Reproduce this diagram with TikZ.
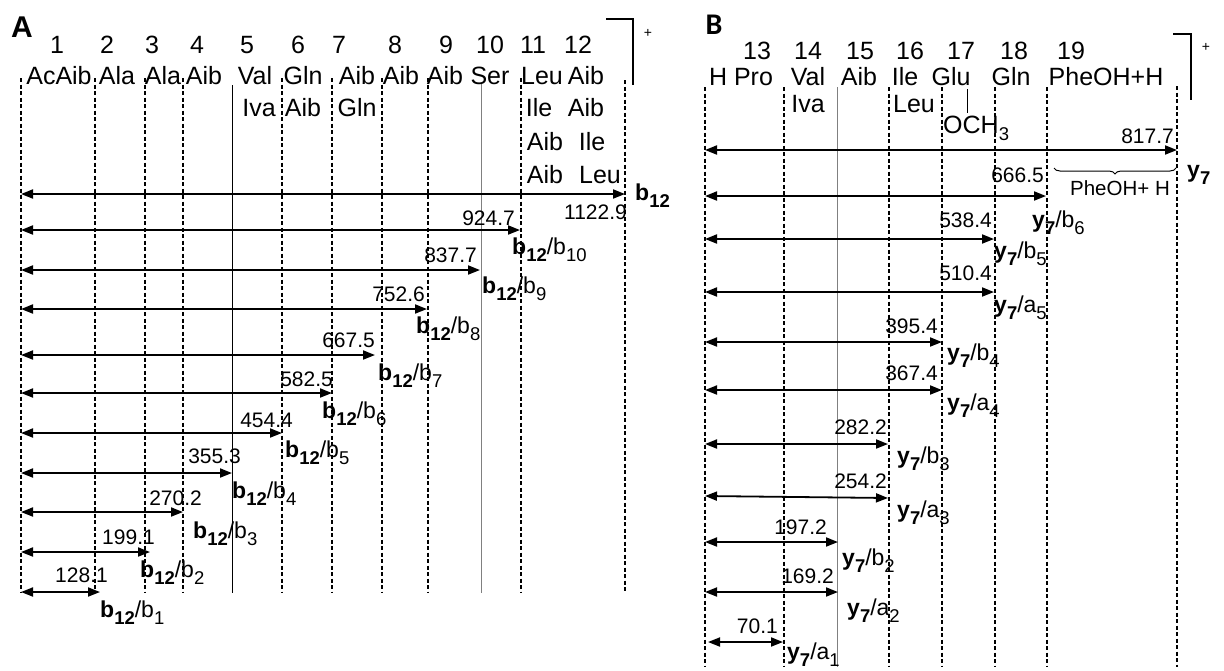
\documentclass[tikz,border=0pt]{standalone}
\usepackage{fontspec}
\setmainfont{Liberation Sans}
\newfontfamily\calib{Carlito}
\usetikzlibrary{positioning}
\usetikzlibrary{arrows.meta}
\usetikzlibrary{decorations.pathreplacing}
\newcommand{\sbs}[1]{\raisebox{-7pt}{\fontsize{18.5}{18.5}\selectfont #1}}
\newcommand{\bion}[1]{\textbf{b}\sbs{\bfseries 12}/b\sbs{#1}}
\newcommand{\yion}[2]{\textbf{y}\sbs{\bfseries 7}/#1\sbs{#2}}
\tikzset {
  % dotted guide lines between residues
  sep/.style={line width=1.4pt, dash pattern=on 4pt off 2.5pt},
  septhin/.style={line width=0.6pt},
  % fragment arrows and their labels
  frag/.style={line width=1.8pt, >={Triangle[length=12pt,width=9pt]}, <->},
  mass/.style={anchor=base east, inner sep=0pt, font=\fontsize{21}{21}\selectfont},
  ion/.style={anchor=base west, inner sep=0pt, font=\fontsize{23}{23}\selectfont},
  res/.style={anchor=base, inner sep=0pt, font=\fontsize{25}{25}\selectfont},
  plus/.style={inner sep=0pt, font=\fontsize{14}{14}\selectfont},
}

\begin{document}
\begin{tikzpicture}[x=1pt, y=-1pt]
      \useasboundingbox (0,0) rectangle (1224,670);

      % panel A
      \node[font=\fontsize{30}{30}\selectfont\bfseries] (pA) at (22,27) {A};
      \draw[sep] (21,78) -- (21,593) (95,78) -- (95,593) (145,78) -- (145,593)
        (183,78) -- (183,593) (282,78) -- (282,593) (332,78) -- (332,593)
        (382,78) -- (382,593) (428,78) -- (428,593) (521,78) -- (521,593)
        (625,80) -- (625,593);
      \draw[septhin] (232,85) -- (232,593);
      \draw[septhin, gray] (481,83) -- (481,593);

      \node[res] (n1) at (57,53) {1};
      \node[res] (n2) at (107,53) {2};
      \node[res] (n3) at (152,53) {3};
      \node[res] (n4) at (197,53) {4};
      \node[res] (n5) at (247,53) {5};
      \node[res] (n6) at (298,53) {6};
      \node[res] (n7) at (339,53) {7};
      \node[res] (n8) at (395,53) {8};
      \node[res] (n9) at (446,53) {9};
      \node[res] (n10) at (490,53) {10};
      \node[res] (n11) at (533,53) {11};
      \node[res] (n12) at (578,53) {12};

      \node[res] (r1) at (59,84) {AcAib};
      \node[res] (r2) at (117,84) {Ala};
      \node[res] (r3) at (163,84) {Ala};
      \node[res] (r4) at (204,84) {Aib};
      \node[res] (r5) at (255,84) {Val};
      \node[res] (r6) at (303,84) {Gln};
      \node[res] (r7) at (357,84) {Aib};
      \node[res] (r8) at (401,84) {Aib};
      \node[res] (r9) at (445,84) {Aib};
      \node[res] (r10) at (490,84) {Ser};
      \node[res] (r11) at (542,84) {Leu};
      \node[res] (r12) at (586,84) {Aib};
      \node[res] (r5b) at (259,116) {Iva};
      \node[res] (r6b) at (303,116) {Aib};
      \node[res] (r7b) at (357,116) {Gln};
      \node[res] (r11b) at (539,116) {Ile};
      \node[res] (r12b) at (586,116) {Aib};
      \node[res] (r11c) at (545,150) {Aib};
      \node[res] (r12c) at (592,150) {Ile};
      \node[res] (r11d) at (545,183) {Aib};
      \node[res] (r12d) at (600,183) {Leu};

      \coordinate (kA1) at (606,19);
      \coordinate (kA2) at (633,19);
      \coordinate (kA3) at (633,85);
      \draw[line width=1.4pt] (kA1) -- (kA2) -- (kA3);
      \node[plus] (cA) at (648,33) {+};

      \coordinate (a1l) at (21,194); \coordinate (a1r) at (625,194);
      \draw[frag] (a1l) -- (a1r);
      \node[mass] (m1) at (627,219) {1122.9};
      \node[ion] (f1) at (635,200) {\textbf{b}\sbs{\bfseries 12}};

      \coordinate (a2l) at (21,230); \coordinate (a2r) at (520,230);
      \draw[frag] (a2l) -- (a2r);
      \node[mass] (m2) at (515,225) {924.7};
      \node[ion] (f2) at (512,254) {\bion{10}};

      \coordinate (a3l) at (21,270); \coordinate (a3r) at (480,270);
      \draw[frag] (a3l) -- (a3r);
      \node[mass] (m3) at (477,262) {837.7};
      \node[ion] (f3) at (482,293) {\bion{9}};

      \coordinate (a4l) at (21,309); \coordinate (a4r) at (427,309);
      \draw[frag] (a4l) -- (a4r);
      \node[mass] (m4) at (425,301) {752.6};
      \node[ion] (f4) at (416,333) {\bion{8}};

      \coordinate (a5l) at (21,355); \coordinate (a5r) at (375,355);
      \draw[frag] (a5l) -- (a5r);
      \node[mass] (m5) at (375,347) {667.5};
      \node[ion] (f5) at (378,380) {\bion{7}};

      \coordinate (a6l) at (21,393); \coordinate (a6r) at (332,393);
      \draw[frag] (a6l) -- (a6r);
      \node[mass] (m6) at (333,386) {582.5};
      \node[ion] (f6) at (322,418) {\bion{6}};

      \coordinate (a7l) at (21,433); \coordinate (a7r) at (282,433);
      \draw[frag] (a7l) -- (a7r);
      \node[mass] (m7) at (293,427) {454.4};
      \node[ion] (f7) at (285,457) {\bion{5}};

      \coordinate (a8l) at (21,473); \coordinate (a8r) at (232,473);
      \draw[frag] (a8l) -- (a8r);
      \node[mass] (m8) at (241,463) {355.3};
      \node[ion] (f8) at (232,498) {\bion{4}};

      \coordinate (a9l) at (21,512); \coordinate (a9r) at (183,512);
      \draw[frag] (a9l) -- (a9r);
      \node[mass] (m9) at (202,505) {270.2};
      \node[ion] (f9) at (193,538) {\bion{3}};

      \coordinate (a10l) at (21,552); \coordinate (a10r) at (150,552);
      \draw[frag] (a10l) -- (a10r);
      \node[mass] (m10) at (155,544) {199.1};
      \node[ion] (f10) at (140,577) {\bion{2}};

      \coordinate (a11l) at (21,592); \coordinate (a11r) at (100,592);
      \draw[frag] (a11l) -- (a11r);
      \node[mass] (m11) at (108,582) {128.1};
      \node[ion] (f11) at (100,617) {\bion{1}};

      % panel B
      \node[font=\fontsize{30}{30}\selectfont\bfseries\calib] (pB) at (714,25) {B};
      \draw[sep] (705,87) -- (705,667) (784,87) -- (784,667) (889,87) -- (889,667)
        (942,87) -- (942,667) (995,87) -- (995,667) (1047,87) -- (1047,667)
        (1177,86) -- (1177,667);
      \draw[septhin, gray] (837,87) -- (837,667);

      \node[res] (n13) at (757,59) {13};
      \node[res] (n14) at (808,59) {14};
      \node[res] (n15) at (860,59) {15};
      \node[res] (n16) at (910,59) {16};
      \node[res] (n17) at (961,59) {17};
      \node[res] (n18) at (1014,59) {18};
      \node[res] (n19) at (1071,59) {19};

      \node[res] (r13) at (741,85) {H Pro};
      \node[res] (r14) at (808,85) {Val};
      \node[res] (r15) at (859,85) {Aib};
      \node[res] (r16) at (905,85) {Ile};
      \node[res] (r17) at (951,85) {Glu};
      \node[res] (r18) at (1011,85) {Gln};
      \node[res] (r19) at (1106,85) {PheOH+H};
      \node[res] (r14b) at (808,112) {Iva};
      \node[res] (r16b) at (914,112) {Leu};
      \node[res, anchor=base west] (och) at (943,133) {OCH\sbs{3}};
      \coordinate (g1) at (967,89);
      \coordinate (g2) at (967,113);
      \draw[line width=1pt] (g1) -- (g2);

      \coordinate (kB1) at (1173,34);
      \coordinate (kB2) at (1191,34);
      \coordinate (kB3) at (1191,100);
      \draw[line width=1.4pt] (kB1) -- (kB2) -- (kB3);
      \node[plus] (cB) at (1206,47) {+};

      \coordinate (b1l) at (705,150); \coordinate (b1r) at (1177,150);
      \draw[frag] (b1l) -- (b1r);
      \node[mass] (p1) at (1174,143) {817.7};
      \node[ion] (y1) at (1187,177) {\textbf{y}\sbs{\bfseries 7}};
      \coordinate (br1) at (1054,168); \coordinate (br2) at (1176,168);
      \draw[decorate, decoration={brace, mirror, amplitude=6pt}, line width=1pt] (br1) -- (br2);
      \node[anchor=base, inner sep=0pt, font=\fontsize{20.5}{20.5}\selectfont] (phe) at (1120,195) {PheOH+ H};

      \coordinate (b2l) at (705,196); \coordinate (b2r) at (1046,196);
      \draw[frag] (b2l) -- (b2r);
      \node[mass] (p2) at (1044,182) {666.5};
      \node[ion] (y2) at (1032,227) {\yion{b}{6}};

      \coordinate (b3l) at (705,239); \coordinate (b3r) at (994,239);
      \draw[frag] (b3l) -- (b3r);
      \node[mass] (p3) at (992,227) {538.4};
      \node[ion] (y3) at (994,258) {\yion{b}{5}};

      \coordinate (b4l) at (705,292); \coordinate (b4r) at (994,292);
      \draw[frag] (b4l) -- (b4r);
      \node[mass] (p4) at (992,280) {510.4};
      \node[ion] (y4) at (994,312) {\yion{a}{5}};

      \coordinate (b5l) at (705,342); \coordinate (b5r) at (942,342);
      \draw[frag] (b5l) -- (b5r);
      \node[mass] (p5) at (938,333) {395.4};
      \node[ion] (y5) at (947,360) {\yion{b}{4}};

      \coordinate (b6l) at (705,390); \coordinate (b6r) at (942,390);
      \draw[frag] (b6l) -- (b6r);
      \node[mass] (p6) at (938,380) {367.4};
      \node[ion] (y6) at (947,410) {\yion{a}{4}};

      \coordinate (b7l) at (705,444); \coordinate (b7r) at (888,444);
      \draw[frag] (b7l) -- (b7r);
      \node[mass] (p7) at (887,434) {282.2};
      \node[ion] (y7) at (897,463) {\yion{b}{3}};

      \coordinate (b8l) at (705,496); \coordinate (b8r) at (888,498);
      \draw[frag] (b8l) -- (b8r);
      \node[mass] (p8) at (887,488) {254.2};
      \node[ion] (y8) at (897,517) {\yion{a}{3}};

      \coordinate (b9l) at (705,542); \coordinate (b9r) at (838,542);
      \draw[frag] (b9l) -- (b9r);
      \node[mass] (p9) at (827,534) {197.2};
      \node[ion] (y9) at (842,565) {\yion{b}{2}};

      \coordinate (b10l) at (705,592); \coordinate (b10r) at (838,592);
      \draw[frag] (b10l) -- (b10r);
      \node[mass] (p10) at (834,583) {169.2};
      \node[ion] (y10) at (847,615) {\yion{a}{2}};

      \coordinate (b11l) at (708,642); \coordinate (b11r) at (783,642);
      \draw[frag] (b11l) -- (b11r);
      \node[mass] (p11) at (778,633) {70.1};
      \node[ion] (y11) at (787,659) {\yion{a}{1}};
    \end{tikzpicture}
\end{document}
